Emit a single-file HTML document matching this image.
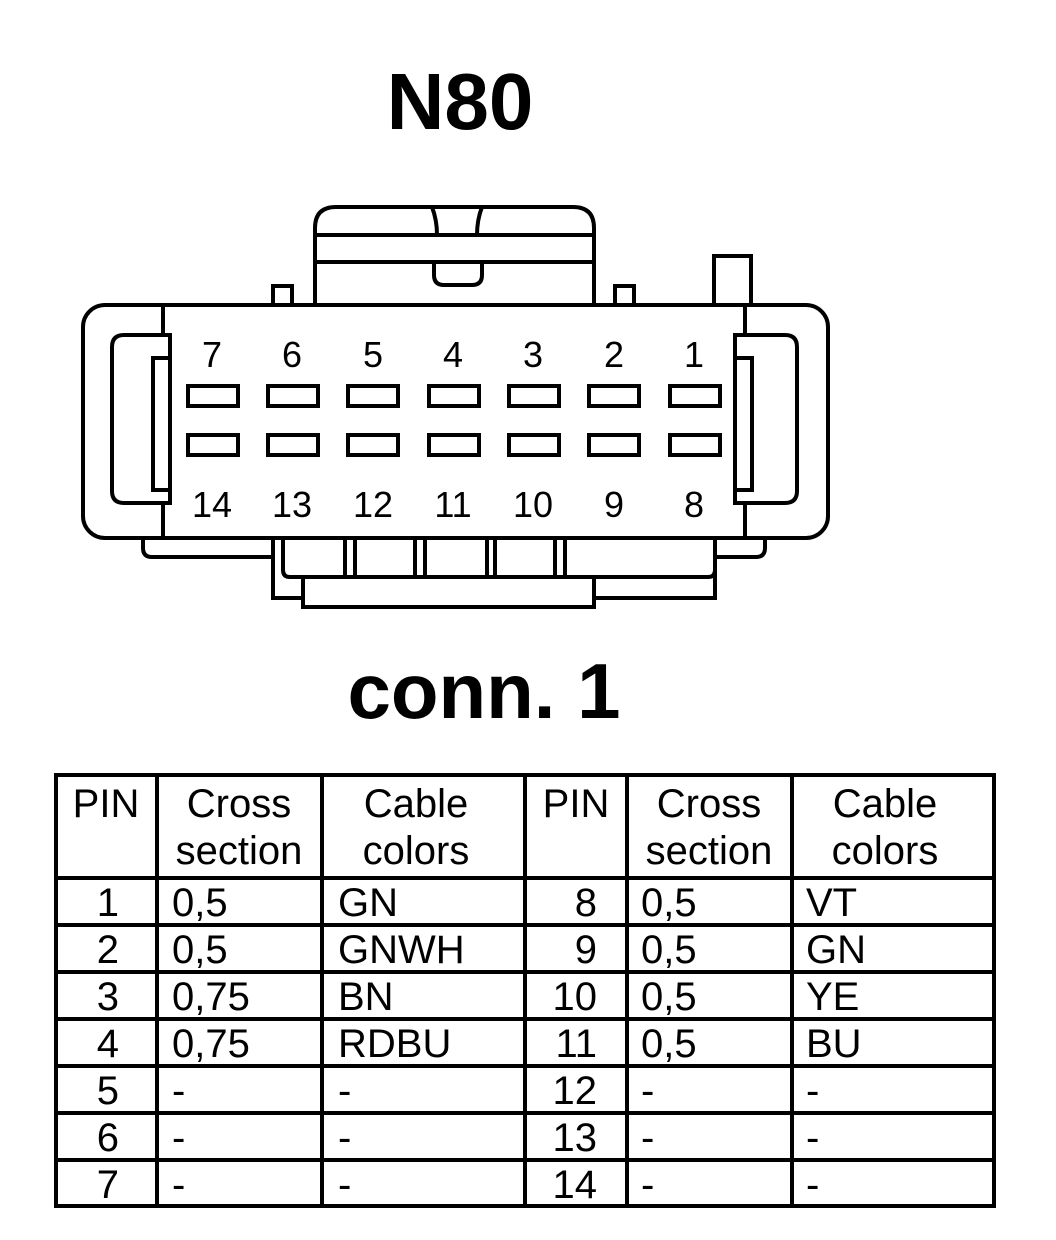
<!DOCTYPE html>
<html><head><meta charset="utf-8"><style>
html,body{margin:0;padding:0;background:#fff;}
svg{display:block;}
text{font-family:"Liberation Sans",Arial,sans-serif;fill:#000;}
</style></head><body>
<svg width="1056" height="1240" viewBox="0 0 1056 1240" xmlns="http://www.w3.org/2000/svg">
<text x="460" y="129" font-size="80" font-weight="bold" text-anchor="middle">N80</text>
<g fill="none" stroke="#000" stroke-width="4">
  <!-- top block -->
  <path d="M315,305 V228 Q315,207 336,207 H573 Q594,207 594,228 V305"/>
  <line x1="315" y1="235" x2="594" y2="235"/>
  <line x1="315" y1="262" x2="594" y2="262"/>
  <path d="M432,207 Q437,220 437,235 M482,207 Q477,220 477,235"/>
  <path d="M434,262 V275 Q434,285 444,285 H472 Q482,285 482,275 V262"/>
  <!-- small tabs -->
  <rect x="273" y="286" width="19" height="19"/>
  <rect x="615" y="286" width="19" height="19"/>
  <rect x="714" y="256" width="37" height="49"/>
  <!-- bottom pieces -->
  <path d="M143,538 V548 Q143,557 152,557 H275"/>
  <path d="M765,538 V548 Q765,557 756,557 H715"/>
  <path d="M273,538 V598 H303"/>
  <path d="M715,538 V598 H594"/>
  <path d="M283,538 V570 Q283,577 290,577 H708 Q715,577 715,570"/>
  <rect x="303" y="577" width="291" height="30"/>
  <line x1="345" y1="538" x2="345" y2="577"/>
  <line x1="355" y1="538" x2="355" y2="577"/>
  <line x1="415" y1="538" x2="415" y2="577"/>
  <line x1="425" y1="538" x2="425" y2="577"/>
  <line x1="487" y1="538" x2="487" y2="577"/>
  <line x1="495" y1="538" x2="495" y2="577"/>
  <line x1="555" y1="538" x2="555" y2="577"/>
  <line x1="565" y1="538" x2="565" y2="577"/>
  <!-- main body -->
  <rect x="83" y="305" width="745" height="233" rx="22" fill="#fff"/>
  <line x1="163" y1="305" x2="163" y2="538"/>
  <line x1="745" y1="305" x2="745" y2="538"/>
  <!-- latches -->
  <path d="M170,335 H124 Q112,335 112,347 V491 Q112,503 124,503 H170 Z" fill="#fff"/>
  <rect x="153" y="358" width="17" height="132"/>
  <path d="M735,335 H785 Q797,335 797,347 V491 Q797,503 785,503 H735 Z" fill="#fff"/>
  <rect x="735" y="358" width="17" height="132"/>
  <!-- pin holes -->
  <g>
    <rect x="188" y="386" width="50" height="20"/><rect x="268" y="386" width="50" height="20"/>
    <rect x="348" y="386" width="50" height="20"/><rect x="429" y="386" width="50" height="20"/>
    <rect x="509" y="386" width="50" height="20"/><rect x="589" y="386" width="50" height="20"/>
    <rect x="670" y="386" width="50" height="20"/>
    <rect x="188" y="435" width="50" height="20"/><rect x="268" y="435" width="50" height="20"/>
    <rect x="348" y="435" width="50" height="20"/><rect x="429" y="435" width="50" height="20"/>
    <rect x="509" y="435" width="50" height="20"/><rect x="589" y="435" width="50" height="20"/>
    <rect x="670" y="435" width="50" height="20"/>
  </g>
</g>
<g font-size="36" text-anchor="middle">
  <text x="212" y="367">7</text><text x="292" y="367">6</text><text x="373" y="367">5</text>
  <text x="453" y="367">4</text><text x="533" y="367">3</text><text x="614" y="367">2</text>
  <text x="694" y="367">1</text>
  <text x="212" y="517">14</text><text x="292" y="517">13</text><text x="373" y="517">12</text>
  <text x="453" y="517">11</text><text x="533" y="517">10</text><text x="614" y="517">9</text>
  <text x="694" y="517">8</text>
</g>
<text x="484" y="718" font-size="78" font-weight="bold" text-anchor="middle">conn. 1</text>
<!-- table -->
<g stroke="#000" stroke-width="4" fill="none">
  <rect x="56" y="775" width="938" height="431"/>
  <line x1="157" y1="775" x2="157" y2="1206"/>
  <line x1="322" y1="775" x2="322" y2="1206"/>
  <line x1="525" y1="775" x2="525" y2="1206"/>
  <line x1="627" y1="775" x2="627" y2="1206"/>
  <line x1="792" y1="775" x2="792" y2="1206"/>
  <line x1="56" y1="878" x2="994" y2="878"/>
  <line x1="56" y1="925" x2="994" y2="925"/>
  <line x1="56" y1="972" x2="994" y2="972"/>
  <line x1="56" y1="1019" x2="994" y2="1019"/>
  <line x1="56" y1="1066" x2="994" y2="1066"/>
  <line x1="56" y1="1113" x2="994" y2="1113"/>
  <line x1="56" y1="1160" x2="994" y2="1160"/>
</g>
<g font-size="40">
  <g text-anchor="middle">
    <text x="106" y="817">PIN</text>
    <text x="239" y="817">Cross</text><text x="239" y="864">section</text>
    <text x="416" y="817">Cable</text><text x="416" y="864">colors</text>
    <text x="576" y="817">PIN</text>
    <text x="709" y="817">Cross</text><text x="709" y="864">section</text>
    <text x="885" y="817">Cable</text><text x="885" y="864">colors</text>
  </g>
  <g text-anchor="end">
    <text x="119" y="916">1</text><text x="119" y="963">2</text><text x="119" y="1010">3</text>
    <text x="119" y="1057">4</text><text x="119" y="1104">5</text><text x="119" y="1151">6</text>
    <text x="119" y="1198">7</text>
    <text x="597" y="916">8</text><text x="597" y="963">9</text><text x="597" y="1010">10</text>
    <text x="597" y="1057">11</text><text x="597" y="1104">12</text><text x="597" y="1151">13</text>
    <text x="597" y="1198">14</text>
  </g>
  <g>
    <text x="172" y="916">0,5</text><text x="172" y="963">0,5</text><text x="172" y="1010">0,75</text>
    <text x="172" y="1057">0,75</text><text x="172" y="1104">-</text><text x="172" y="1151">-</text>
    <text x="172" y="1198">-</text>
    <text x="338" y="916">GN</text><text x="338" y="963">GNWH</text><text x="338" y="1010">BN</text>
    <text x="338" y="1057">RDBU</text><text x="338" y="1104">-</text><text x="338" y="1151">-</text>
    <text x="338" y="1198">-</text>
    <text x="641" y="916">0,5</text><text x="641" y="963">0,5</text><text x="641" y="1010">0,5</text>
    <text x="641" y="1057">0,5</text><text x="641" y="1104">-</text><text x="641" y="1151">-</text>
    <text x="641" y="1198">-</text>
    <text x="806" y="916">VT</text><text x="806" y="963">GN</text><text x="806" y="1010">YE</text>
    <text x="806" y="1057">BU</text><text x="806" y="1104">-</text><text x="806" y="1151">-</text>
    <text x="806" y="1198">-</text>
  </g>
</g>
</svg>
</body></html>
